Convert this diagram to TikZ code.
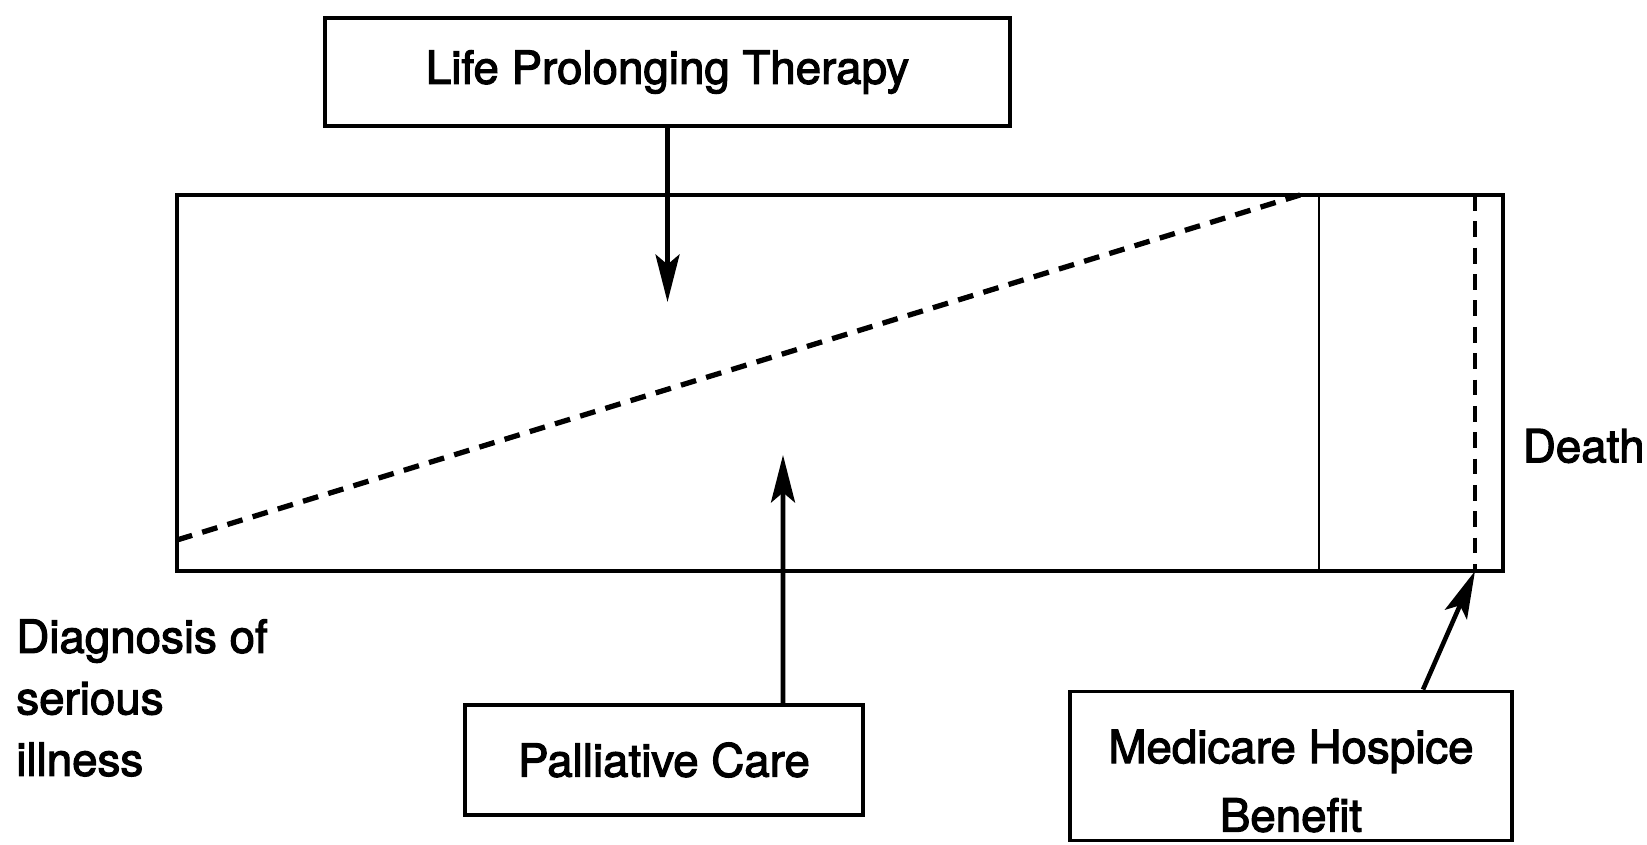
\documentclass[tikz,border=0pt]{standalone}
\usepackage{fontspec}
\setmainfont{TeX Gyre Heros}[FakeBold=2.5]
\usetikzlibrary{arrows.meta}

\begin{document}
\begin{tikzpicture}[
  box/.style={draw,line width=2.2pt,font=\fontsize{26}{38}\selectfont,align=center},
  lbl/.style={inner sep=0pt,font=\fontsize{26}{35}\selectfont,align=left},
  conn/.style={line width=2.6pt,-{Stealth[length=9.5mm,width=4.8mm,inset=2mm]}},
  dashline/.style={line width=3pt,dash pattern=on 9pt off 6pt}]
\useasboundingbox (0,0) rectangle (32.94,16.88);
% the course of illness
\coordinate (sw) at (3.54,5.46);
\coordinate (ne) at (30.06,12.98);
\draw[line width=2pt] (sw) rectangle (ne);
\draw[line width=1.6pt] (26.38,5.46) -- (26.38,12.98);
\draw[dashline] (3.54,6.08) -- (26.0,12.98);
\coordinate (death) at (29.5,5.46);
\draw[dashline,line width=2.6pt] (29.5,12.98) -- (death);
	\node[lbl,anchor=west] (dth) at (30.45,7.96) {Death};
	\node[lbl,anchor=north west] (diag) at (0.32,4.5) {Diagnosis of\\serious\\illness};
% the three kinds of care
\node[box,minimum width=13.7cm,minimum height=2.16cm] (lpt) at (13.35,15.44) {Life Prolonging Therapy};
\node[box,minimum width=7.96cm,minimum height=2.2cm] (pc) at (13.28,1.68) {Palliative Care};
\node[box,minimum width=8.84cm,minimum height=2.98cm] (mhb) at (25.82,1.56) {};
	\node[font=\fontsize{26}{39}\selectfont,align=center] (mhbtext) at ([yshift=-0.3cm]mhb.center) {Medicare Hospice\\Benefit};
\coordinate (lptend) at (13.35,10.84);
\coordinate (pcend) at (15.66,7.78);
\draw[conn] (lpt.south) -- (lptend);
\draw[conn] ([xshift=2.38cm]pc.north) -- (pcend);
\draw[conn] ([xshift=2.64cm]mhb.north) -- (death);
\end{tikzpicture}
\end{document}
